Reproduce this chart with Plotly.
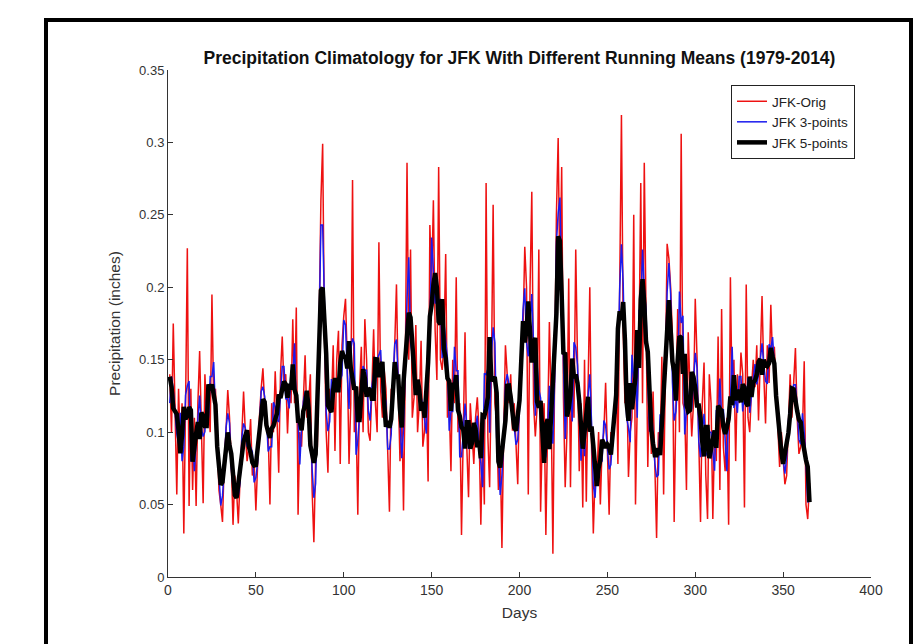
import numpy as np
import plotly.graph_objects as go

# Daily precipitation climatology at JFK (inches), days 1..365
days = list(range(1, 366))
jfk_orig = [
    0.14, 0.10, 0.175, 0.11, 0.057, 0.13, 0.09, 0.12, 0.03, 0.12,
    0.227, 0.049, 0.13, 0.06, 0.11, 0.049, 0.12, 0.156, 0.10, 0.051,
    0.14, 0.11, 0.12, 0.10, 0.195, 0.12, 0.13, 0.09, 0.06, 0.05,
    0.038, 0.08, 0.10, 0.129, 0.11, 0.08, 0.036, 0.07, 0.06, 0.037,
    0.07, 0.09, 0.128, 0.10, 0.08, 0.09, 0.109, 0.07, 0.08, 0.046,
    0.08, 0.11, 0.13, 0.144, 0.12, 0.11, 0.10, 0.05, 0.12, 0.10,
    0.142, 0.11, 0.072, 0.14, 0.166, 0.13, 0.14, 0.099, 0.13, 0.12,
    0.178, 0.12, 0.186, 0.043, 0.10, 0.09, 0.12, 0.153, 0.11, 0.12,
    0.14, 0.06, 0.024, 0.08, 0.09, 0.17, 0.26, 0.299, 0.17, 0.10,
    0.072, 0.13, 0.12, 0.16, 0.087, 0.15, 0.17, 0.078, 0.16, 0.18,
    0.192, 0.15, 0.078, 0.12, 0.274, 0.10, 0.11, 0.043, 0.13, 0.159,
    0.10, 0.178, 0.15, 0.10, 0.094, 0.13, 0.171, 0.12, 0.10, 0.231,
    0.129, 0.11, 0.143, 0.13, 0.09, 0.045, 0.13, 0.12, 0.16, 0.202,
    0.13, 0.08, 0.12, 0.046, 0.14, 0.286, 0.15, 0.226, 0.11, 0.124,
    0.174, 0.10, 0.12, 0.163, 0.09, 0.101, 0.13, 0.066, 0.243, 0.20,
    0.26, 0.17, 0.136, 0.283, 0.15, 0.143, 0.16, 0.223, 0.11, 0.12,
    0.073, 0.15, 0.12, 0.207, 0.10, 0.12, 0.029, 0.10, 0.169, 0.09,
    0.055, 0.12, 0.10, 0.078, 0.11, 0.124, 0.10, 0.036, 0.10, 0.05,
    0.272, 0.097, 0.062, 0.14, 0.257, 0.12, 0.108, 0.06, 0.09, 0.02,
    0.10, 0.16, 0.14, 0.12, 0.14, 0.101, 0.12, 0.09, 0.064, 0.13,
    0.155, 0.17, 0.228, 0.20, 0.057, 0.20, 0.266, 0.12, 0.097, 0.117,
    0.226, 0.045, 0.10, 0.12, 0.029, 0.10, 0.176, 0.12, 0.016, 0.14,
    0.25, 0.303, 0.20, 0.283, 0.124, 0.062, 0.10, 0.206, 0.062, 0.15,
    0.11, 0.226, 0.14, 0.073, 0.12, 0.048, 0.15, 0.052, 0.13, 0.20,
    0.09, 0.03, 0.07, 0.064, 0.10, 0.05, 0.09, 0.10, 0.134, 0.08,
    0.043, 0.10, 0.09, 0.11, 0.15, 0.078, 0.20, 0.319, 0.17, 0.12,
    0.14, 0.069, 0.10, 0.11, 0.25, 0.05, 0.12, 0.16, 0.272, 0.12,
    0.286, 0.19, 0.076, 0.14, 0.085, 0.128, 0.08, 0.027, 0.10, 0.085,
    0.152, 0.057, 0.14, 0.23, 0.22, 0.20, 0.166, 0.038, 0.12, 0.185,
    0.10, 0.306, 0.12, 0.115, 0.06, 0.169, 0.13, 0.097, 0.12, 0.192,
    0.152, 0.09, 0.038, 0.12, 0.148, 0.07, 0.04, 0.14, 0.12, 0.04,
    0.10, 0.08, 0.166, 0.06, 0.185, 0.09, 0.073, 0.11, 0.036, 0.207,
    0.12, 0.15, 0.08, 0.14, 0.12, 0.155, 0.14, 0.048, 0.202, 0.11,
    0.10, 0.13, 0.15, 0.131, 0.16, 0.108, 0.15, 0.194, 0.14, 0.106,
    0.16, 0.134, 0.188, 0.15, 0.159, 0.13, 0.11, 0.076, 0.10, 0.08,
    0.064, 0.07, 0.113, 0.14, 0.11, 0.13, 0.158, 0.11, 0.085, 0.09,
    0.10, 0.149, 0.05, 0.04, 0.065,
]

x_tick_vals = [0, 50, 100, 150, 200, 250, 300, 350, 400]
y_tick_vals = [0, 0.05, 0.1, 0.15, 0.2, 0.25, 0.3, 0.35]
y_tick_text = ["0", "0.05", "0.1", "0.15", "0.2", "0.25", "0.3", "0.35"]

series_names = ["JFK-Orig", "JFK 3-points", "JFK 5-points"]


def running_mean(vals, k):
    """Centered running mean with a shrinking window at the ends (like movmean)."""
    a = np.asarray(vals, dtype=float)
    h = k // 2
    out = np.empty_like(a)
    for i in range(len(a)):
        lo = max(0, i - h)
        hi = min(len(a), i + h + 1)
        out[i] = a[lo:hi].mean()
    return out


jfk_3 = running_mean(jfk_orig, 3)
jfk_5 = running_mean(jfk_orig, 5)

fig = go.Figure()
fig.add_trace(go.Scatter(x=days, y=jfk_orig, mode="lines", name=series_names[0],
                         line=dict(color="#ee1111", width=1.5)))
fig.add_trace(go.Scatter(x=days, y=jfk_3, mode="lines", name=series_names[1],
                         line=dict(color="#1a1aee", width=1.5)))
fig.add_trace(go.Scatter(x=days, y=jfk_5, mode="lines", name=series_names[2],
                         line=dict(color="#000000", width=4.5)))

W, H = 913, 644
L, R, T, B = 168, 42, 70, 67
pw, ph = W - L - R, H - T - B


def px_x(p):
    return (p - L) / pw


def px_y(p):
    return (H - B - p) / ph


axis_color = "#333333"
fig.update_layout(
    width=W, height=H,
    margin=dict(l=L, r=R, t=T, b=B, autoexpand=False),
    paper_bgcolor="white", plot_bgcolor="white",
    font=dict(family="Liberation Sans, Arial, sans-serif", color=axis_color, size=13),
    title=dict(text="<b>Precipitation Climatology for JFK With Different Running Means (1979-2014)</b>",
               x=0.5, xref="paper", xanchor="center", y=1 - 58 / H, yanchor="middle",
               font=dict(size=17.5, color="#111111")),
    showlegend=True,
    legend=dict(x=px_x(855), y=px_y(85), xanchor="right", yanchor="top",
                bgcolor="white", bordercolor="#222222", borderwidth=1,
                font=dict(size=13.5, color="#222222"), tracegroupgap=0,
                itemwidth=30),
    xaxis=dict(range=[0, 400], tickvals=x_tick_vals, showgrid=False, zeroline=False,
               showline=True, linecolor=axis_color, linewidth=1, ticks="inside",
               ticklen=5, tickcolor=axis_color, mirror=False,
               tickfont=dict(size=14),
               title=dict(text="Days", font=dict(size=15.5), standoff=10)),
    yaxis=dict(range=[0, 0.35], tickvals=y_tick_vals, ticktext=y_tick_text, showgrid=False,
               zeroline=False, showline=True, linecolor=axis_color, linewidth=1,
               ticks="inside", ticklen=5, tickcolor=axis_color, mirror=False,
               tickfont=dict(size=13),
               title=dict(text="Precipitation (inches)", font=dict(size=15.5), standoff=14)),
    shapes=[
        dict(type="rect", xref="paper", yref="paper",
             x0=px_x(46), x1=px_x(911), y0=px_y(680), y1=px_y(20),
             line=dict(color="#000000", width=4), fillcolor="rgba(0,0,0,0)", layer="below"),
    ],
)

fig.write_html("out.html")
